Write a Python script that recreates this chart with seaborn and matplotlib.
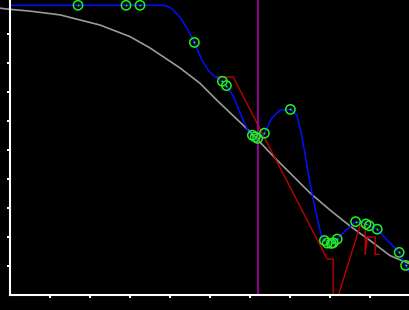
import matplotlib
matplotlib.use("Agg")
import matplotlib.pyplot as plt
import seaborn as sns
import pandas as pd

# ---- data ----
pts_x = [1.70, 2.90, 3.25, 4.61, 5.31, 5.41, 6.06, 6.13, 6.19, 6.36, 7.01,
         7.86, 7.93, 8.03, 8.08, 8.18, 8.64, 8.90, 8.98, 9.18, 9.73, 9.89]
pts_y = [1.000, 1.000, 1.000, 0.872, 0.738, 0.723, 0.552, 0.546, 0.541, 0.559, 0.641,
         0.189, 0.180, 0.179, 0.181, 0.194, 0.254, 0.246, 0.240, 0.228, 0.148, 0.103]

blue_x = [0.00, 3.83, 4.00, 4.25, 4.43, 4.61, 4.80, 4.95, 5.10, 5.31, 5.41, 5.58,
          5.79, 5.96, 6.08, 6.20, 6.36, 6.54, 6.75, 7.01, 7.17, 7.29, 7.38, 7.50,
          7.67, 7.79, 7.86, 8.00, 8.18, 8.38, 8.64, 8.90, 9.18, 9.42, 9.58, 9.73,
          9.89, 10.00]
blue_y = [1.000, 1.000, 0.994, 0.959, 0.920, 0.872, 0.811, 0.777, 0.756, 0.738, 0.723, 0.687,
          0.616, 0.564, 0.546, 0.539, 0.559, 0.610, 0.639, 0.641, 0.622, 0.553, 0.484, 0.386,
          0.271, 0.202, 0.189, 0.179, 0.194, 0.222, 0.254, 0.246, 0.228, 0.191, 0.170, 0.148,
          0.103, 0.077]

gray_x = [-0.25, 0.00, 0.50, 1.25, 2.25, 3.00, 3.50, 4.25, 4.75, 5.17, 6.00, 6.65,
          7.50, 8.00, 8.50, 9.00, 9.50, 10.00]
gray_y = [0.990, 0.986, 0.980, 0.967, 0.932, 0.892, 0.853, 0.784, 0.731, 0.673, 0.564, 0.470,
          0.353, 0.294, 0.239, 0.189, 0.137, 0.108]

red_x = [5.15, 5.58, 7.93, 8.08, 8.08, 8.21, 8.75, 8.88, 8.88, 8.93, 9.13, 9.13, 9.23]
red_y = [0.753, 0.753, 0.125, 0.125, 0.000, 0.000, 0.239, 0.239, 0.141, 0.201, 0.201, 0.141, 0.141]

vline_x = 6.21

x_ticks = [1, 2, 3, 4, 5, 6, 7, 8, 9]
y_ticks = [0.1, 0.2, 0.3, 0.4, 0.5, 0.6, 0.7, 0.8, 0.9]

# ---- figure ----
sns.set_style("dark")
fig = plt.figure(figsize=(4.1, 3.1), dpi=100, facecolor="black")
ax = fig.add_axes([10 / 410, 14.7 / 310, 400 / 410, 295.3 / 310])
ax.set_facecolor("black")
ax.grid(False)

gray_df = pd.DataFrame({"x": gray_x, "y": gray_y})
blue_df = pd.DataFrame({"x": blue_x, "y": blue_y})
red_df = pd.DataFrame({"x": red_x, "y": red_y})
pts_df = pd.DataFrame({"x": pts_x, "y": pts_y})

sns.lineplot(data=gray_df, x="x", y="y", ax=ax, color="#9a9a9a", lw=1.2,
             estimator=None, sort=False, clip_on=False)
sns.lineplot(data=red_df, x="x", y="y", ax=ax, color="#c00000", lw=1.0,
             estimator=None, sort=False, clip_on=False)
sns.lineplot(data=blue_df, x="x", y="y", ax=ax, color="#0010ff", lw=1.1,
             estimator=None, sort=False, clip_on=False)
ax.axvline(vline_x, color="#a000a0", lw=1.3, ymin=0, ymax=1, clip_on=False)
sns.scatterplot(data=pts_df, x="x", y="y", ax=ax, marker="o", s=45,
                facecolor="none", edgecolor="#22ee22", linewidth=1.1,
                clip_on=False, zorder=5)
sns.scatterplot(data=pts_df, x="x", y="y", ax=ax, marker="o", s=2,
                color="#22ee22", linewidth=0, clip_on=False, zorder=6)

ax.set_xlim(0, 10)
ax.set_ylim(0, 295.3 / 290)
ax.set_xticks(x_ticks)
ax.set_yticks(y_ticks)
ax.set_xticklabels([])
ax.set_yticklabels([])
ax.set_xlabel("")
ax.set_ylabel("")
ax.tick_params(axis="both", direction="out", length=2.4, width=1.4,
               color="white", left=True, bottom=True)
for side in ["top", "right"]:
    ax.spines[side].set_visible(False)
for side in ["left", "bottom"]:
    ax.spines[side].set_visible(True)
    ax.spines[side].set_color("white")
    ax.spines[side].set_linewidth(1.5)

fig.savefig("out.png", dpi=100, facecolor="black")
